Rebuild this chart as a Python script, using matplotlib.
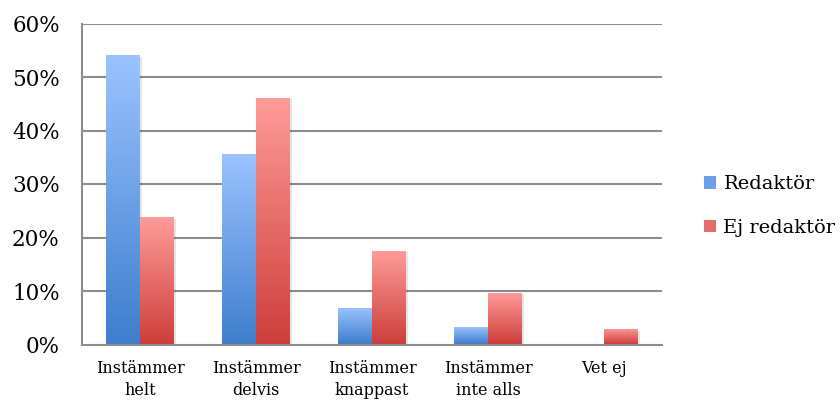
import numpy as np
import matplotlib
matplotlib.use("Agg")
import matplotlib.pyplot as plt
from matplotlib.colors import LinearSegmentedColormap
from matplotlib.patches import Rectangle

categories = ["Instämmer\nhelt", "Instämmer\ndelvis", "Instämmer\nknappast", "Instämmer\ninte alls", "Vet ej"]
series_names = ["Redaktör", "Ej redaktör"]
redaktor = [54.1, 35.6, 6.8, 3.3, 0.0]
ej_redaktor = [23.8, 46.1, 17.5, 9.7, 2.9]
y_ticks = [0, 10, 20, 30, 40, 50, 60]
y_tick_labels = ["0%", "10%", "20%", "30%", "40%", "50%", "60%"]

blue_top, blue_bot = "#9cc3ff", "#3e7ecd"
red_top, red_bot = "#ff9c9a", "#cd3e3b"

plt.rcParams["font.family"] = ["DejaVu Serif"]

fig = plt.figure(figsize=(8.4, 4.01), dpi=100)
ax = fig.add_axes([82/840, 1 - 344.5/401, 580/840, 321/401])

ax.set_xlim(-0.5, len(categories) - 0.5)
ax.set_ylim(0, 60)

width = 0.293
grad = np.linspace(0, 1, 256).reshape(-1, 1)

def gradient_bar(x0, h, ctop, cbot):
    if h <= 0:
        return
    sh = Rectangle((x0 + 0.02, 0), width, h - 0.3, facecolor="#000000", alpha=0.10,
                   edgecolor="none", zorder=2)
    ax.add_patch(sh)
    cmap = LinearSegmentedColormap.from_list("g", [cbot, ctop])
    rect = Rectangle((x0, 0), width, h, facecolor="none", edgecolor="none", zorder=3)
    ax.add_patch(rect)
    im = ax.imshow(grad, extent=[x0, x0 + width, 0, h], origin="lower", cmap=cmap,
                   aspect="auto", zorder=3, interpolation="bilinear")
    im.set_clip_path(rect)

x = np.arange(len(categories))
for i in range(len(categories)):
    gradient_bar(x[i] - width, redaktor[i], blue_top, blue_bot)
    gradient_bar(x[i], ej_redaktor[i], red_top, red_bot)

ax.set_xlim(-0.5, len(categories) - 0.5)
ax.set_ylim(0, 60)
ax.set_aspect("auto")

for yv in y_ticks[1:]:
    ax.axhline(yv, color="#8c8c8c", lw=1.5, zorder=1)

ax.set_yticks(y_ticks)
ax.set_yticklabels(y_tick_labels, fontsize=15.5)
ax.set_xticks(x)
ax.set_xticklabels(categories, fontsize=11.5, linespacing=1.4)
ax.tick_params(axis="x", length=0, pad=11)
ax.tick_params(axis="y", length=0, pad=16)
for s in ["top", "right"]:
    ax.spines[s].set_visible(False)
for s in ["left", "bottom"]:
    ax.spines[s].set_color("#8c8c8c")
    ax.spines[s].set_linewidth(1.5)

handles = [Rectangle((0, 0), 1, 1, facecolor="#6d9fe6", edgecolor="none"),
           Rectangle((0, 0), 1, 1, facecolor="#e66d6a", edgecolor="none")]
fig.legend(handles, series_names, loc="center left", bbox_to_anchor=(704/840, 1 - 206/401),
           frameon=False, fontsize=14, handlelength=0.6, handleheight=0.6,
           handletextpad=0.4, labelspacing=1.3, borderaxespad=0, borderpad=0)

fig.savefig("out.png", dpi=100)
